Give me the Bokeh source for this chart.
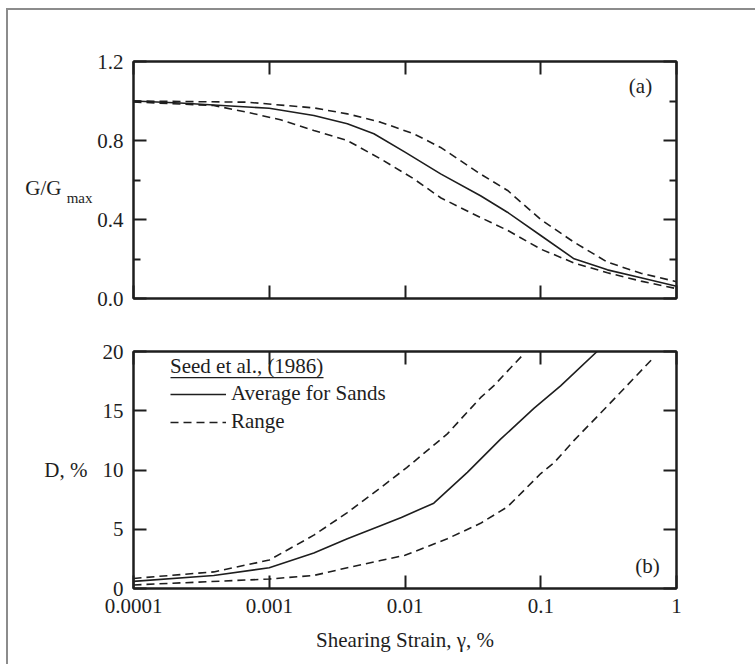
from bokeh.plotting import figure
from bokeh.layouts import column, row
from bokeh.models import (Range1d, FixedTicker, CustomJSTickFormatter, LinearAxis, LogAxis,
                          Label, Legend, LegendItem, BoxAnnotation, Div, Spacer)
from bokeh.embed import file_html
from bokeh.resources import INLINE

# ---- shared strain axis (%) -------------------------------------------------
STRAIN_TICKS = [0.0001, 0.001, 0.01, 0.1, 1.0]
STRAIN_TICK_LABELS = ["0.0001", "0.001", "0.01", "0.1", "1"]

# ---- (a) modulus reduction G/Gmax ----------------------------------------------
G_TICKS = [0.0, 0.4, 0.8, 1.2]
G_TICK_LABELS = ["0.0", "0.4", "0.8", "1.2"]
G_MINOR_TICKS = [0.2, 0.6, 1.0]

G_AVG_STRAIN = [0.0001, 0.00022, 0.001, 0.00213, 0.00376, 0.0059, 0.01, 0.0183,
                0.036, 0.0568, 0.1, 0.176, 0.31, 0.547, 1.0]
G_AVG = [1.0, 0.99, 0.963, 0.927, 0.885, 0.834, 0.741, 0.631,
         0.52, 0.437, 0.319, 0.201, 0.145, 0.105, 0.062]

G_UPPER_STRAIN = [0.0001, 0.00069, 0.00213, 0.00376, 0.0066, 0.0116, 0.0183,
                  0.036, 0.057, 0.1, 0.176, 0.31, 0.547, 1.0]
G_UPPER = [1.0, 0.994, 0.965, 0.935, 0.893, 0.834, 0.765,
           0.63, 0.547, 0.40, 0.285, 0.184, 0.128, 0.085]

G_LOWER_STRAIN = [0.0001, 0.00039, 0.00069, 0.00121, 0.00213, 0.00376, 0.0066,
                  0.0116, 0.0183, 0.036, 0.057, 0.1, 0.176, 0.31, 0.547, 1.0]
G_LOWER = [0.995, 0.977, 0.943, 0.905, 0.851, 0.80, 0.707,
           0.606, 0.51, 0.41, 0.345, 0.25, 0.18, 0.13, 0.088, 0.05]

# ---- (b) damping ratio D (%) ---------------------------------------------------
D_TICKS = [0, 5, 10, 15, 20]
D_TICK_LABELS = ["0", "5", "10", "15", "20"]

D_AVG_STRAIN = [0.0001, 0.00039, 0.001, 0.00213, 0.00376, 0.0066, 0.0094, 0.0163,
                0.0288, 0.0506, 0.089, 0.14, 0.26]
D_AVG = [0.6, 1.1, 1.75, 3.0, 4.2, 5.3, 6.0, 7.2,
         9.8, 12.6, 15.2, 17.1, 20.0]

D_UPPER_STRAIN = [0.0001, 0.00039, 0.001, 0.00213, 0.00376, 0.0066, 0.0103,
                  0.0205, 0.036, 0.045, 0.075]
D_UPPER = [0.85, 1.4, 2.4, 4.5, 6.4, 8.5, 10.2,
           13.05, 16.1, 17.1, 19.8]

D_LOWER_STRAIN = [0.0001, 0.001, 0.00213, 0.00376, 0.0066, 0.01, 0.0205,
                  0.036, 0.057, 0.1, 0.125, 0.176, 0.31, 0.68]
D_LOWER = [0.3, 0.8, 1.1, 1.75, 2.36, 2.8, 4.2,
           5.5, 6.9, 9.7, 10.6, 12.5, 15.4, 19.5]

FONT = "Liberation Serif"
INK = "#1e1e1e"
FRAME_GREY = "#8c8c8c"
DASH = "8 5"

# the grey page frame sits at x = 6..8 and y = 8..10; the plots start inside it
PAGE_X, PAGE_Y = 8, 10
PAGE_W = 755 - PAGE_X
TOP_H, BOTTOM_H = 315, 339


def label_formatter(values, texts):
    return CustomJSTickFormatter(args=dict(tick_values=values, tick_texts=texts), code="""
        for (let i = 0; i < tick_values.length; i++) {
            const t = tick_values[i];
            if (Math.abs(t - tick) <= 1e-9 * Math.max(1, Math.abs(t)))
                return tick_texts[i];
        }
        return "";
    """)


def blank_formatter():
    return CustomJSTickFormatter(code="return '';")


def style_axis(ax, labelled):
    ax.axis_line_color = INK
    ax.axis_line_width = 2
    ax.major_tick_line_color = INK
    ax.major_tick_line_width = 2
    ax.major_tick_in = 13
    ax.major_tick_out = 0
    ax.minor_tick_line_color = INK
    ax.minor_tick_line_width = 2
    ax.minor_tick_in = 7
    ax.minor_tick_out = 0
    ax.major_label_text_font = FONT
    ax.major_label_text_font_size = "21px"
    ax.major_label_text_color = INK
    ax.axis_label_text_font = FONT
    ax.axis_label_text_font_size = "21px"
    ax.axis_label_text_font_style = "normal"
    ax.axis_label_text_color = INK
    if not labelled:
        ax.formatter = blank_formatter()
        ax.major_label_text_font_size = "0px"
        ax.major_label_standoff = 0


def title_axis(text, size, line_height, standoff):
    """A bare left axis that only carries a horizontal title."""
    ax = LinearAxis(ticker=FixedTicker(ticks=[]), formatter=blank_formatter(),
                    axis_label=text, axis_label_orientation="horizontal",
                    axis_label_standoff=standoff, axis_line_color=None,
                    major_tick_line_color=None, minor_tick_line_color=None,
                    major_tick_in=0, major_tick_out=0, minor_tick_in=0, minor_tick_out=0,
                    major_label_standoff=0, major_label_text_font_size="0px")
    ax.axis_label_text_font = FONT
    ax.axis_label_text_font_size = size
    ax.axis_label_text_font_style = "normal"
    ax.axis_label_text_color = INK
    ax.axis_label_text_line_height = line_height
    return ax


def make_panel(height, border_top, border_bottom, y_end, y_ticks, y_labels, y_minor, x_labelled):
    p = figure(width=PAGE_W, height=height, x_axis_type="log",
               x_range=Range1d(0.0001, 1.0), y_range=Range1d(0, y_end),
               output_backend="svg", toolbar_location=None,
               min_border_left=133 - PAGE_X, min_border_right=PAGE_W - (133 - PAGE_X) - 543,
               min_border_top=border_top, min_border_bottom=border_bottom)
    p.add_layout(LogAxis(), "above")
    p.add_layout(LinearAxis(), "right")
    p.grid.visible = False
    p.background_fill_color = "white"
    p.border_fill_color = "white"
    p.outline_line_color = INK
    p.outline_line_width = 2

    for ax in p.below + p.above:
        ax.ticker = FixedTicker(ticks=STRAIN_TICKS, minor_ticks=[])
    for ax in p.left + p.right:
        ax.ticker = FixedTicker(ticks=y_ticks, minor_ticks=y_minor)

    for ax in p.left:
        style_axis(ax, True)
        ax.formatter = label_formatter(y_ticks, y_labels)
        ax.major_label_standoff = 10
    for ax in p.right + p.above:
        style_axis(ax, False)
    for ax in p.below:
        style_axis(ax, x_labelled)
        if x_labelled:
            ax.formatter = label_formatter(STRAIN_TICKS, STRAIN_TICK_LABELS)
            ax.major_label_standoff = 10
    return p


def frame_label(p, text, x, y):
    p.add_layout(Label(x=x, y=y, x_units="canvas", y_units="canvas", text=text,
                       text_font=FONT, text_font_size="21px", text_color=INK,
                       text_align="center", text_baseline="middle"))


# ---- panel (a) -----------------------------------------------------------------
pa = make_panel(TOP_H, 61 - PAGE_Y, 27, 1.2, G_TICKS, G_TICK_LABELS, G_MINOR_TICKS, False)
pa.line(G_AVG_STRAIN, G_AVG, line_color=INK, line_width=1.6)
pa.line(G_UPPER_STRAIN, G_UPPER, line_color=INK, line_width=1.6, line_dash=DASH)
pa.line(G_LOWER_STRAIN, G_LOWER, line_color=INK, line_width=1.6, line_dash=DASH)

# y title "G/G" with a subscripted "max" (the blank first line drops each text a little)
pa.add_layout(title_axis("\nmax", "15px", 2.2, 2), "left")
pa.add_layout(title_axis("\nG/G", "21px", 0.7, 2), "left")

frame_label(pa, "(a)", 640 - PAGE_X, 85 - PAGE_Y)

# ---- panel (b) -----------------------------------------------------------------
pb = make_panel(BOTTOM_H, 26, BOTTOM_H - 26 - 237, 20, D_TICKS, D_TICK_LABELS, [], True)
pb.below[0].axis_label = "Shearing Strain, \u03b3, %"
pb.below[0].axis_label_standoff = 12
pb.left[0].axis_label = "D, %"
pb.left[0].axis_label_orientation = "horizontal"
pb.left[0].axis_label_standoff = 12

r_avg = pb.line(D_AVG_STRAIN, D_AVG, line_color=INK, line_width=1.6)
r_up = pb.line(D_UPPER_STRAIN, D_UPPER, line_color=INK, line_width=1.6, line_dash=DASH)
pb.line(D_LOWER_STRAIN, D_LOWER, line_color=INK, line_width=1.6, line_dash=DASH)

frame_label(pb, "(b)", 647 - PAGE_X, 240)

legend = Legend(items=[LegendItem(label="Average for Sands", renderers=[r_avg]),
                       LegendItem(label="Range", renderers=[r_up])],
                title="Seed et al., (1986)", location=(37, 154),
                padding=0, margin=0, spacing=3, title_standoff=2,
                glyph_width=56, glyph_height=20, label_standoff=5,
                background_fill_alpha=0, border_line_color=None,
                label_text_font=FONT, label_text_font_size="21px", label_text_color=INK,
                title_text_font=FONT, title_text_font_size="21px",
                title_text_font_style="normal", title_text_color=INK)
pb.add_layout(legend)
# underline beneath the legend title
pb.add_layout(BoxAnnotation(left=170 - PAGE_X, right=323 - PAGE_X, top=51.5, bottom=52.8,
                            left_units="canvas", right_units="canvas",
                            top_units="canvas", bottom_units="canvas",
                            fill_color=INK, fill_alpha=1, line_color=None))

# ---- grey page frame (top and left edges) built from two thin bars --------------
plots = column(pa, pb, spacing=0, margin=0)
top_bar = Div(text="", width=2 + PAGE_W, height=2, margin=0,
              styles={"background-color": FRAME_GREY})
left_bar = Div(text="", width=2, height=TOP_H + BOTTOM_H, margin=0,
               styles={"background-color": FRAME_GREY})
framed = column(top_bar, row(left_bar, plots, spacing=0, margin=0), spacing=0, margin=0)
layout = column(Spacer(height=8, margin=0),
                row(Spacer(width=6, margin=0), framed, spacing=0, margin=0),
                spacing=0, margin=0)
open("out.html", "w").write(file_html(layout, INLINE))
